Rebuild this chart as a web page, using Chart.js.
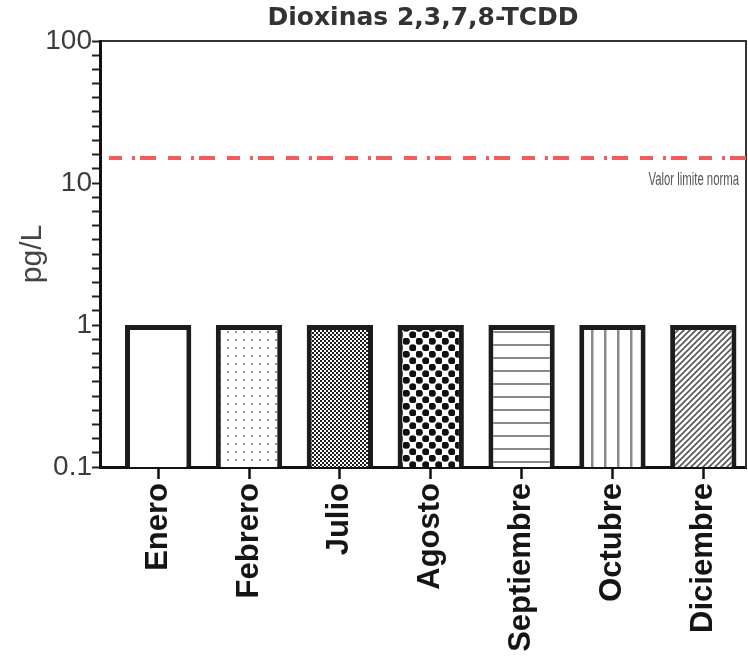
<!DOCTYPE html>
<html>
<head>
<meta charset="utf-8">
<script src="https://cdn.jsdelivr.net/npm/chart.js@4.4.1/dist/chart.umd.min.js"></script>
<style>
  html, body { margin: 0; padding: 0; background: #ffffff; }
  #wrap { width: 748px; height: 667px; }
</style>
</head>
<body>
<div id="wrap"><canvas id="c" width="748" height="667"></canvas></div>
<script>
// ---- data ----
const months = ['Enero', 'Febrero', 'Julio', 'Agosto', 'Septiembre', 'Octubre', 'Diciembre'];
const values = [1, 1, 1, 1, 1, 1, 1];
const fillKinds = ['none', 'dots', 'fine', 'checker', 'hlines', 'vlines', 'diag'];
const limitValue = 15;
const limitLabel = 'Valor limite norma';
const yTickLabels = ['0.1', '1', '10', '100'];
const yMin = 0.1, yMax = 100;
const chartTitle = 'Dioxinas 2,3,7,8-TCDD';
const yTitle = 'pg/L';

// ---- fill patterns ----
function makeFill(kind) {
  if (kind === 'none') return '#ffffff';
  const c = document.createElement('canvas');
  const g = c.getContext('2d');
  let w = 8, h = 8;
  if (kind === 'dots') { w = h = 8; }
  if (kind === 'fine') { w = h = 4; }
  if (kind === 'checker') { w = h = 13; }
  if (kind === 'hlines') { w = 4; h = 13; }
  if (kind === 'vlines') { w = 13; h = 4; }
  if (kind === 'diag') { w = h = 6; }
  c.width = w; c.height = h;
  g.fillStyle = '#ffffff'; g.fillRect(0, 0, w, h);
  if (kind === 'dots') {
    g.fillStyle = '#9a9a9a'; g.fillRect(3, 3, 2, 2);
  } else if (kind === 'fine') {
    g.fillStyle = '#1e1e1e'; g.fillRect(0, 0, 2, 2); g.fillRect(2, 2, 2, 2);
  } else if (kind === 'checker') {
    g.fillStyle = '#111111';
    g.beginPath(); g.arc(3.25, 3.25, 3.6, 0, Math.PI * 2); g.fill();
    g.beginPath(); g.arc(9.75, 9.75, 3.6, 0, Math.PI * 2); g.fill();
  } else if (kind === 'hlines') {
    g.fillStyle = '#8a8a8a'; g.fillRect(0, 6, w, 2);
  } else if (kind === 'vlines') {
    g.fillStyle = '#8a8a8a'; g.fillRect(6, 0, 2.5, h);
  } else if (kind === 'diag') {
    g.strokeStyle = '#555555'; g.lineWidth = 1.6;
    g.beginPath();
    g.moveTo(0, 6); g.lineTo(6, 0);
    g.moveTo(-1, 1); g.lineTo(1, -1);
    g.moveTo(5, 7); g.lineTo(7, 5);
    g.stroke();
  }
  return g.createPattern(c, 'repeat');
}
const fills = fillKinds.map(makeFill);

// ---- limit line plugin ----
const limitPlugin = {
  id: 'limitLine',
  afterDatasetsDraw(chart) {
    const { ctx, chartArea } = chart;
    const y = chart.scales.y.getPixelForValue(limitValue);
    ctx.save();
    ctx.strokeStyle = '#f25c5c';
    ctx.lineWidth = 4;
    ctx.setLineDash([13, 10, 3, 5, 16, 12]);
    ctx.beginPath();
    ctx.moveTo(chartArea.left + 9, y);
    ctx.lineTo(chartArea.right, y);
    ctx.stroke();
    ctx.setLineDash([]);
    ctx.fillStyle = '#555555';
    ctx.font = '18px "Liberation Sans", Arial, sans-serif';
    ctx.textAlign = 'right';
    ctx.textBaseline = 'middle';
    ctx.translate(chartArea.right - 7, y + 22);
    ctx.scale(0.63, 1);
    ctx.fillText(limitLabel, 0, 0);
    ctx.restore();
  }
};

const isPow10 = v => Math.abs(Math.log10(v) - Math.round(Math.log10(v))) < 1e-9;

new Chart(document.getElementById('c'), {
  type: 'bar',
  data: {
    datasets: [{
      data: months.map((m, i) => ({ x: i, y: values[i] })),
      backgroundColor: fills,
      borderColor: '#1c1c1c',
      borderWidth: 5,
      borderSkipped: 'start',
      barPercentage: 0.73,
      categoryPercentage: 1.0
    }]
  },
  options: {
    responsive: false,
    animation: false,
    layout: { padding: { left: 0, right: 0, top: 0, bottom: 0 } },
    plugins: {
      legend: { display: false },
      tooltip: { enabled: false },
      title: { display: false }
    },
    scales: {
      x: {
        type: 'linear',
        position: 'bottom',
        offset: false,
        min: -0.64,
        max: 6.47,
        afterBuildTicks: s => { s.ticks = months.map((m, i) => ({ value: i })); },
        afterFit: s => { s.height = 200; },
        grid: { display: true, offset: false, drawOnChartArea: false, drawTicks: true, tickLength: 12, tickWidth: 2.5, tickColor: '#111111' },
        border: { display: true, color: '#111111', width: 3 },
        ticks: {
          autoSkip: false,
          minRotation: 90,
          maxRotation: 90,
          padding: 4,
          color: '#151515',
          font: { family: '"Liberation Sans", Arial, sans-serif', size: 31, weight: 'bold' },
          callback: v => months[v]
        }
      },
      x2: {
        type: 'linear',
        position: 'top',
        display: true,
        afterFit: s => { s.height = 41; },
        grid: { display: true, drawOnChartArea: false, drawTicks: false },
        border: { display: true, color: '#333333', width: 2 },
        ticks: { display: false },
        title: {
          display: true,
          text: chartTitle,
          color: '#333333',
          padding: { top: 3, bottom: 0 },
          font: { family: '"DejaVu Sans", sans-serif', size: 25, weight: 'bold' }
        }
      },
      y: {
        type: 'logarithmic',
        position: 'left',
        min: yMin,
        max: yMax,
        afterBuildTicks: s => {
          const t = [];
          for (let e = -1; e < 2; e++) {
            for (let k = 0; k < 10; k++) t.push({ value: Math.pow(10, e + k / 10) });
          }
          t.push({ value: yMax });
          s.ticks = t;
        },
        afterFit: s => { s.width = 100; },
        grid: { display: true, drawOnChartArea: false, drawTicks: true, tickLength: 8, tickWidth: 2, tickColor: '#222222' },
        border: { display: true, color: '#111111', width: 3 },
        ticks: {
          autoSkip: false,
          padding: 0,
          color: '#3c3c3c',
          font: { family: '"Liberation Sans", Arial, sans-serif', size: 28 },
          callback: v => isPow10(v) ? yTickLabels[Math.round(Math.log10(v)) + 1] : ''
        },
        title: {
          display: true,
          text: yTitle,
          color: '#444444',
          padding: { top: 15, bottom: 0 },
          font: { family: '"Liberation Sans", Arial, sans-serif', size: 30 }
        }
      },
      y2: {
        type: 'linear',
        position: 'right',
        display: true,
        afterFit: s => { s.width = 2; },
        grid: { display: true, drawOnChartArea: false, drawTicks: false },
        border: { display: true, color: '#333333', width: 2 },
        ticks: { display: false }
      }
    }
  },
  plugins: [limitPlugin]
});
</script>
</body>
</html>
